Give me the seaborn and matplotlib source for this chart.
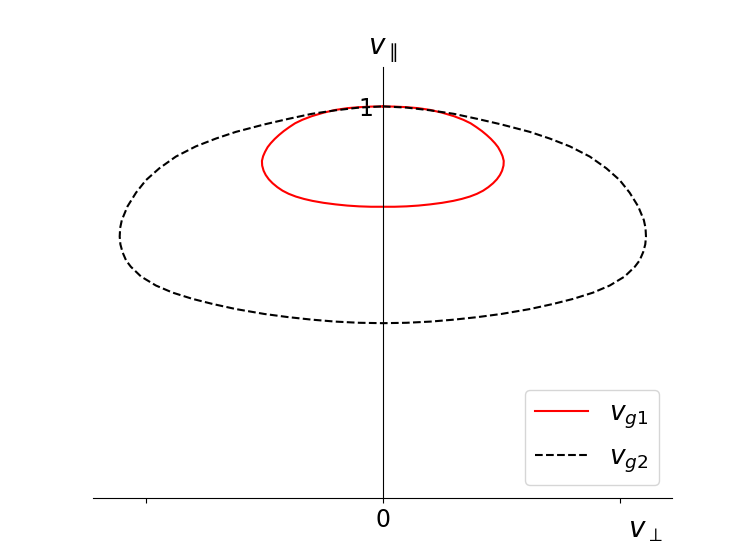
import numpy as np
import matplotlib
matplotlib.use("Agg")
import matplotlib.pyplot as plt
import seaborn as sns

# right half of each curve (v_perp >= 0); mirrored below
vg1_perp = [0.000, 0.050, 0.100, 0.150, 0.200, 0.250, 0.300, 0.339, 0.370, 0.395,
            0.418, 0.438, 0.456, 0.473, 0.486, 0.497, 0.505, 0.510, 0.509, 0.503,
            0.494, 0.481, 0.465, 0.445, 0.423, 0.397, 0.367, 0.333, 0.297, 0.250,
            0.199, 0.150, 0.100, 0.050, 0.000]
vg1_par = [1.000, 0.9995, 0.998, 0.9955, 0.991, 0.984, 0.975, 0.966, 0.957, 0.947,
           0.937, 0.927, 0.917, 0.906, 0.896, 0.884, 0.873, 0.861, 0.849, 0.836,
           0.825, 0.814, 0.804, 0.794, 0.785, 0.777, 0.770, 0.764, 0.759, 0.754,
           0.750, 0.747, 0.745, 0.744, 0.744]

vg2_perp = [0.000, 0.100, 0.200, 0.300, 0.400, 0.500, 0.620, 0.704, 0.789, 0.873,
            0.943, 0.999, 1.041, 1.077, 1.101, 1.108, 1.110, 1.107, 1.098, 1.083,
            1.063, 1.020, 0.957, 0.887, 0.803, 0.718, 0.620, 0.500, 0.400, 0.300,
            0.200, 0.100, 0.000]
vg2_par = [1.000, 0.997, 0.990, 0.981, 0.968, 0.954, 0.935, 0.918, 0.898, 0.872,
           0.842, 0.812, 0.780, 0.745, 0.710, 0.690, 0.668, 0.648, 0.628, 0.607,
           0.591, 0.566, 0.543, 0.525, 0.509, 0.496, 0.483, 0.4705, 0.4625, 0.456,
           0.451, 0.448, 0.447]


def full_curve(perp, par):
    # curve is symmetric about v_perp = 0
    perp = np.array(perp)
    par = np.array(par)
    x = np.concatenate([perp, -perp[::-1]])
    y = np.concatenate([par, par[::-1]])
    return x, y


fig, ax = plt.subplots(figsize=(7.47, 5.6), dpi=100)

x1, y1 = full_curve(vg1_perp, vg1_par)
x2, y2 = full_curve(vg2_perp, vg2_par)

sns.lineplot(x=x1, y=y1, sort=False, estimator=None, color='red',
             label=r'$v_{g1}$', ax=ax)
sns.lineplot(x=x2, y=y2, sort=False, estimator=None, color='black',
             linestyle='--', label=r'$v_{g2}$', ax=ax)

ax.set_ylim(0, 1.1)

# axes through the origin, only left and bottom
sns.despine(ax=ax)
ax.spines['left'].set_position(('data', 0))

ax.set_xticks([-1, 0, 1])
ax.set_xticklabels(['', '0', ''], fontsize=17)
ax.set_yticks([1])
ax.set_yticklabels(['1'], fontsize=17)

ax.set_xlabel(r'$v_\perp$', fontsize=20)
ax.xaxis.set_label_coords(0.953, -0.04)
ax.set_ylabel(r'$v_\parallel$', fontsize=20, rotation=0)
ax.yaxis.set_label_coords(0.5, 1.005)

ax.legend(loc='lower right', fontsize=19)

plt.savefig("out.png", dpi=100)
